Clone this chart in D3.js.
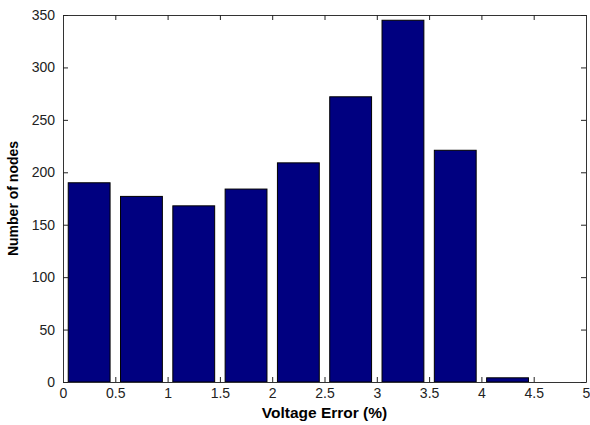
<!DOCTYPE html>
<html>
<head>
<meta charset="utf-8">
<script src="https://cdn.jsdelivr.net/npm/d3@7"></script>
<style>
body { margin: 0; background: #fff; }
text { font-family: "Liberation Sans", Arial, sans-serif; }
</style>
</head>
<body>
<div class="container"></div>
<script>
const binCenters = [0.25, 0.75, 1.25, 1.75, 2.25, 2.75, 3.25, 3.75, 4.25, 4.75]
const nodeCounts = [190, 177, 168, 184, 209, 272, 345, 221, 4, 0]
const xTicks = [0, 0.5, 1, 1.5, 2, 2.5, 3, 3.5, 4, 4.5, 5]
const yTicks = [0, 50, 100, 150, 200, 250, 300, 350]

const width = 590, height = 425
const margin = {top: 15, right: 4, bottom: 43, left: 63}

const svg = d3.select(".container")
              .append("svg")
              .attr("width", width)
              .attr("height", height)

const x = d3.scaleLinear().domain([0, 5]).range([margin.left, width - margin.right])
const y = d3.scaleLinear().domain([0, 350]).range([height - margin.bottom, margin.top])

const binW = 0.5
const barW = (x(binW * 0.8) - x(0))

// bars
svg.selectAll("rect.bar")
   .data(binCenters.map((c, i) => ({c: c, v: nodeCounts[i]})))
   .enter()
   .append("rect")
   .attr("class", "bar")
   .attr("x", d => x(d.c) - barW / 2)
   .attr("y", d => y(d.v))
   .attr("width", barW)
   .attr("height", d => y(0) - y(d.v))
   .attr("fill", "#000080")
   .attr("stroke", "#000")
   .attr("stroke-width", 1)

// axes, ticks inward on all sides
const tickLen = 5
const fmt = d => String(d)
const axBottom = svg.append("g").attr("transform", "translate(0," + y(0) + ")")
  .call(d3.axisBottom(x).tickValues(xTicks).tickSizeInner(-tickLen).tickSizeOuter(0).tickPadding(6).tickFormat(fmt))
const axTop = svg.append("g").attr("transform", "translate(0," + y(350) + ")")
  .call(d3.axisTop(x).tickValues(xTicks).tickSizeInner(-tickLen).tickSizeOuter(0).tickFormat(""))
const axLeft = svg.append("g").attr("transform", "translate(" + x(0) + ",0)")
  .call(d3.axisLeft(y).tickValues(yTicks).tickSizeInner(-tickLen).tickSizeOuter(0).tickPadding(8).tickFormat(fmt))
const axRight = svg.append("g").attr("transform", "translate(" + x(5) + ",0)")
  .call(d3.axisRight(y).tickValues(yTicks).tickSizeInner(-tickLen).tickSizeOuter(0).tickFormat(""))

svg.selectAll(".domain").attr("stroke", "#333")
svg.selectAll(".tick line").attr("stroke", "#222")
svg.selectAll(".tick text")
   .style("font-size", "14px")
   .attr("fill", "#222")

svg.append("text")
   .attr("x", (x(0) + x(5)) / 2)
   .attr("y", 418)
   .attr("text-anchor", "middle")
   .style("font-size", "15.5px")
   .style("font-weight", "bold")
   .text("Voltage Error (%)")

svg.append("text")
   .attr("transform", "translate(18," + (y(0) + y(350)) / 2 + ") rotate(-90)")
   .attr("text-anchor", "middle")
   .style("font-size", "14px")
   .style("font-weight", "bold")
   .text("Number of nodes")
</script>
</body>
</html>
